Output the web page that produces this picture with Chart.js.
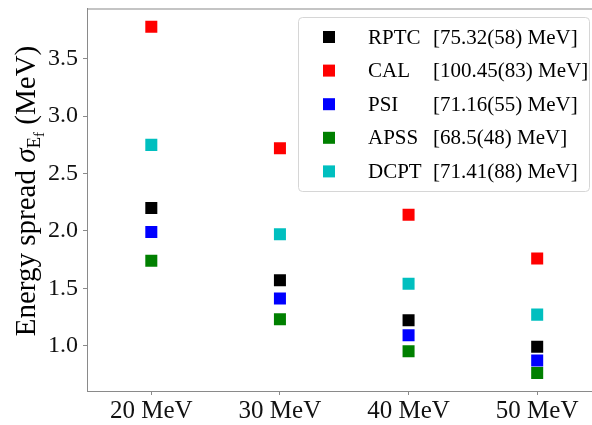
<!DOCTYPE html>
<html>
<head>
<meta charset="utf-8">
<script src="https://cdn.jsdelivr.net/npm/chart.js@4.4.0/dist/chart.umd.min.js"></script>
<style>
  html, body { margin: 0; padding: 0; background: #fff; overflow: hidden; }
  #wrap { width: 610px; height: 425px; }
</style>
</head>
<body>
<div id="wrap"><canvas id="chart" width="610" height="425"></canvas></div>
<script>
const categories = ['20 MeV', '30 MeV', '40 MeV', '50 MeV'];
const seriesNames = ['RPTC', 'CAL', 'PSI', 'APSS', 'DCPT'];
const seriesNotes = ['[75.32(58) MeV]', '[100.45(83) MeV]', '[71.16(55) MeV]', '[68.5(48) MeV]', '[71.41(88) MeV]'];
const rptc = [2.20, 1.57, 1.22, 0.99];
const cal = [3.78, 2.72, 2.14, 1.76];
const psi = [1.99, 1.41, 1.09, 0.87];
const apss = [1.74, 1.23, 0.95, 0.76];
const dcpt = [2.75, 1.97, 1.54, 1.27];
const yTicks = [1.0, 1.5, 2.0, 2.5, 3.0, 3.5];

const colors = ['#000000', '#ff0000', '#0000ff', '#008000', '#00bfbf'];
const values = [rptc, cal, psi, apss, dcpt];
const FONT = '"Liberation Serif", "DejaVu Serif", serif';
const EDGE = '#8a8a8a';

// frame around the plot (top/right spines)
const framePlugin = {
  id: 'frame',
  beforeDatasetsDraw(chart) {
    const a = chart.chartArea, ctx = chart.ctx;
    ctx.save();
    ctx.strokeStyle = EDGE;
    ctx.lineWidth = 1;
    ctx.strokeRect(a.left + 0.5, a.top + 0.5, a.right - a.left, a.bottom - a.top);
    ctx.restore();
  }
};

// rotated y title with sigma_{E_f}
const yTitlePlugin = {
  id: 'yTitle',
  afterDraw(chart) {
    const ctx = chart.ctx;
    const big = 29;
    const parts = [
      { t: 'Energy spread ', f: big + 'px ' + FONT, dy: 0 },
      { t: 'σ', f: 'italic ' + big + 'px ' + FONT, dy: 0 },
      { t: 'E', f: Math.round(big * 0.66) + 'px ' + FONT, dy: 5 },
      { t: 'f', f: Math.round(big * 0.5) + 'px ' + FONT, dy: 9 },
      { t: ' (MeV)', f: big + 'px ' + FONT, dy: 0 }
    ];
    ctx.save();
    let total = 0;
    parts.forEach(p => { ctx.font = p.f; p.w = ctx.measureText(p.t).width; total += p.w; });
    ctx.translate(35, 191);
    ctx.rotate(-Math.PI / 2);
    ctx.fillStyle = '#000';
    ctx.textBaseline = 'alphabetic';
    let x = -total / 2;
    parts.forEach(p => { ctx.font = p.f; ctx.fillText(p.t, x, p.dy); x += p.w; });
    ctx.restore();
  }
};

// framed legend in the upper right
const legendPlugin = {
  id: 'boxLegend',
  afterDraw(chart) {
    const ctx = chart.ctx;
    const bx = 298.5, by = 17.5, bw = 291, bh = 174, r = 4;
    ctx.save();
    ctx.beginPath();
    ctx.roundRect(bx, by, bw, bh, r);
    ctx.fillStyle = 'rgba(255,255,255,0.8)';
    ctx.fill();
    ctx.strokeStyle = '#d6d6d6';
    ctx.lineWidth = 1;
    ctx.stroke();
    ctx.font = '21px ' + FONT;
    ctx.textBaseline = 'middle';
    chart.data.datasets.forEach((ds, i) => {
      const cy = 37 + i * 33.6;
      ctx.fillStyle = ds.pointBackgroundColor;
      ctx.fillRect(323, cy - 6, 12, 12);
      ctx.fillStyle = '#000';
      ctx.fillText(ds.label, 368, cy + 1);
      ctx.fillText(seriesNotes[i], 433, cy + 1);
    });
    ctx.restore();
  }
};

const chart = new Chart(document.getElementById('chart'), {
  type: 'line',
  data: {
    labels: categories,
    datasets: seriesNames.map((name, i) => ({
      label: name,
      data: values[i],
      showLine: false,
      pointStyle: 'rect',
      pointRadius: 8.5,
      pointHoverRadius: 8.5,
      pointBorderWidth: 0,
      pointBackgroundColor: colors[i],
      borderColor: colors[i]
    }))
  },
  options: {
    responsive: false,
    devicePixelRatio: 1,
    animation: false,
    layout: { padding: { left: 0, top: 6, right: 7, bottom: 0 } },
    plugins: {
      legend: { display: false },
      tooltip: { enabled: false }
    },
    scales: {
      x: {
        type: 'category',
        offset: true,
        grid: { drawOnChartArea: false, drawTicks: true, tickLength: 4, color: EDGE, offset: false },
        border: { display: true, color: EDGE, width: 1 },
        ticks: { color: '#111', font: { family: FONT, size: 25 }, padding: 1, maxRotation: 0 },
        afterFit(scale) { scale.height = 34; scale.paddingLeft = 0; scale.paddingRight = 0; }
      },
      y: {
        min: 0.604,
        max: 3.939,
        grid: { drawOnChartArea: false, drawTicks: true, tickLength: 4, color: EDGE },
        border: { display: true, color: EDGE, width: 1 },
        ticks: {
          color: '#111',
          font: { family: FONT, size: 24 },
          padding: 5,
          callback: v => Number(v).toFixed(1)
        },
        afterBuildTicks(scale) { scale.ticks = yTicks.map(v => ({ value: v })); },
        afterFit(scale) { scale.width = 87; scale.paddingTop = 0; scale.paddingBottom = 0; }
      }
    }
  },
  plugins: [framePlugin, yTitlePlugin, legendPlugin]
});
</script>
</body>
</html>
